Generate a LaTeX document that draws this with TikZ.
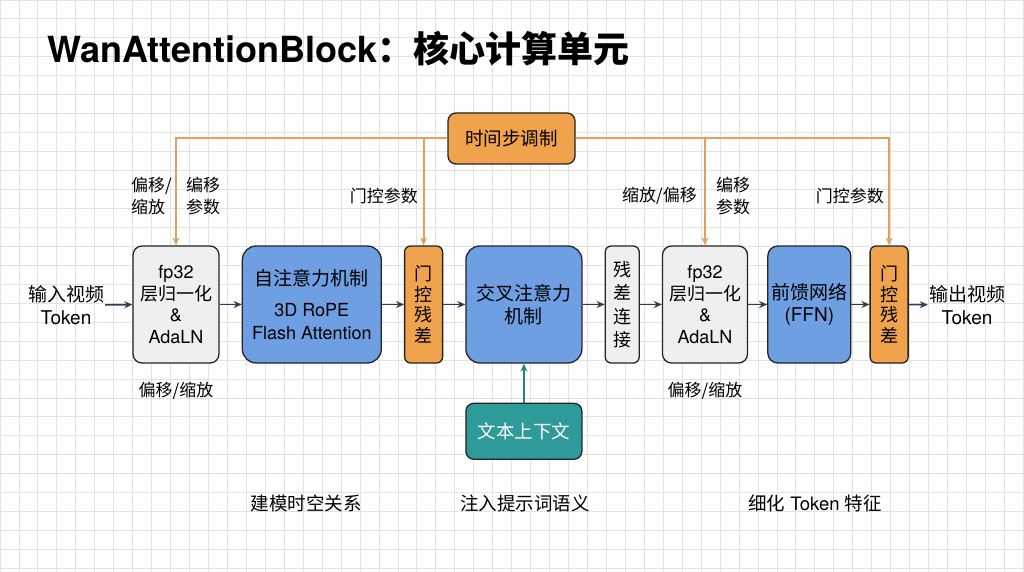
\documentclass[tikz,border=0pt]{standalone}
\usepackage{fontspec}
\setmainfont{TeX Gyre Heros}
\newfontfamily\cjk{Noto Sans CJK SC}
\newcommand{\zh}[1]{{\cjk #1}}
\usetikzlibrary{positioning,arrows.meta}
\definecolor{gridgray}{HTML}{E2E2E2}
\definecolor{boxgray}{HTML}{EFEFEF}
\definecolor{attnblue}{HTML}{6E9FE2}
\definecolor{gateorange}{HTML}{F0A24C}
\definecolor{modorange}{HTML}{E2A05A}
\definecolor{ctxteal}{HTML}{2E9A9A}
\definecolor{flowdark}{HTML}{2C3E50}
\definecolor{edgedark}{HTML}{242424}

\begin{document}
\begin{tikzpicture}[
    x=1pt, y=-1pt,
    node distance=22pt,
    gridline/.style={gridgray, line width=0.9pt},
    normbox/.style={
      draw=edgedark, line width=1.3pt,
      fill=boxgray,
      rounded corners=9pt,
      minimum width=86pt, minimum height=117pt,
      inner sep=2pt, align=center,
      font=\fontsize{18}{21.5}\selectfont
    },
    attnbox/.style={normbox, fill=attnblue, rounded corners=14pt,
      font=\fontsize{19}{22.5}\selectfont},
    gatebox/.style={normbox, fill=gateorange, minimum width=38pt, rounded corners=6pt,
      font=\cjk\fontsize{18}{20.5}\selectfont},
    residbox/.style={normbox, minimum width=34pt, rounded corners=6pt,
      font=\cjk\fontsize{18}{23.5}\selectfont},
    modbox/.style={normbox, fill=gateorange, rounded corners=8pt,
      minimum width=127pt, minimum height=51pt, font=\cjk\fontsize{18.5}{22}\selectfont},
    ctxbox/.style={normbox, fill=ctxteal, text=white, rounded corners=8pt,
      minimum width=116pt, minimum height=56pt, font=\cjk\fontsize{18.5}{22}\selectfont},
    iolabel/.style={align=center, inner sep=1pt, font=\fontsize{19}{23}\selectfont},
    note/.style={align=left, inner sep=0pt, font=\cjk\fontsize{17}{22}\selectfont},
    caption/.style={inner sep=0pt, font=\fontsize{18.5}{22}\selectfont},
    flow/.style={-{Stealth[length=8pt,width=7pt]}, flowdark, line width=1.6pt},
    modline/.style={-{Stealth[length=8pt,width=7pt]}, modorange, line width=2pt},
    ctxline/.style={-{Stealth[length=8pt,width=7pt]}, ctxteal!85!black, line width=1.8pt}
  ]
  % background and grid
  \fill[white] (0,0) rectangle (1024,572);
  \useasboundingbox (0,0) rectangle (1024,572);
  \foreach \gx in {0,...,54}
    \draw[gridline] (\gx*18.95,0) -- (\gx*18.95,572);
  \foreach \gy in {0,...,30}
    \draw[gridline] (0,\gy*18.95) -- (1024,\gy*18.95);

  % title
  \node[anchor=base west, inner sep=0pt, font=\bfseries\fontsize{36}{40}\selectfont] (title)
    at (47,63) {WanAttentionBlock{\cjk\bfseries ：核心计算单元}};

  % main row
  \node[iolabel] (vin) at (66,305) {\zh{输入视频}\\Token};
  \node[normbox] (normA) at (176,304.5) {fp32\\\zh{层归一化}\\\&\\AdaLN};
  \node[attnbox, minimum width=139pt, right=of normA] (selfattn)
    {\zh{自注意力机制}\\[9pt]\fontsize{18}{21}\selectfont 3D RoPE\\\fontsize{18}{21}\selectfont Flash Attention};
  \node[gatebox, right=of selfattn] (gateA) {门\\控\\残\\差};
  \node[attnbox, minimum width=116pt, right=of gateA] (crossattn) {\zh{交叉注意力}\\\zh{机制}};
  \node[residbox, right=of crossattn] (resid) {残\\差\\连\\接};
  \node[normbox, minimum width=85pt, right=of resid] (normB) {fp32\\\zh{层归一化}\\\&\\AdaLN};
  \node[attnbox, minimum width=83pt, rounded corners=10pt, right=19pt of normB] (ffn) {\zh{前馈网络}\\(FFN)};
  \node[gatebox, right=18pt of ffn] (gateB) {门\\控\\残\\差};
  \node[iolabel] (vout) at (967,305) {\zh{输出视频}\\Token};

  % timestep and text context
  \node[modbox] (tstep) at (511.5,138.5) {时间步调制};
  \node[ctxbox, below=39pt of crossattn] (ctx) {文本上下文};

  % main flow
  \draw[flow] (vin) -- (normA);
  \draw[flow] (normA) -- (selfattn);
  \draw[flow] (selfattn) -- (gateA);
  \draw[flow] (gateA) -- (crossattn);
  \draw[flow] (crossattn) -- (resid);
  \draw[flow] (resid) -- (normB);
  \draw[flow] (normB) -- (ffn);
  \draw[flow] (ffn) -- (gateB);
  \draw[flow] (gateB) -- (vout);
  \draw[ctxline] (ctx) -- (crossattn);

  % modulation
  \draw[modline] (tstep.west) -| (normA.north);
  \draw[modline] (tstep.west) -| (gateA.north);
  \draw[modline] (tstep.east) -| (normB.north);
  \draw[modline] (tstep.east) -| (gateB.north);

  % parameter notes
  \node[note, anchor=east] (shiftA) at (172,196) {偏移/\\缩放};
  \node[note, anchor=west] (paramA) at (186,196) {编移\\参数};
  \node[note, anchor=east] (gatenoteA) at (418,196) {门控参数};
  \node[note, anchor=east] (scaleB) at (697,196) {缩放/偏移};
  \node[note, anchor=west] (paramB) at (716,196) {编移\\参数};
  \node[note, anchor=east] (gatenoteB) at (884,196) {门控参数};
  \node[note, below=18pt of normA] (shiftlowA) {偏移/缩放};
  \node[note, below=18pt of normB] (shiftlowB) {偏移/缩放};

  % captions
  \node[caption] (capA) at (306,503) {\zh{建模时空关系}};
  \node[caption] (capB) at (525,503) {\zh{注入提示词语义}};
  \node[caption] (capC) at (815,503) {\zh{细化} Token \zh{特征}};
\end{tikzpicture}
\end{document}
